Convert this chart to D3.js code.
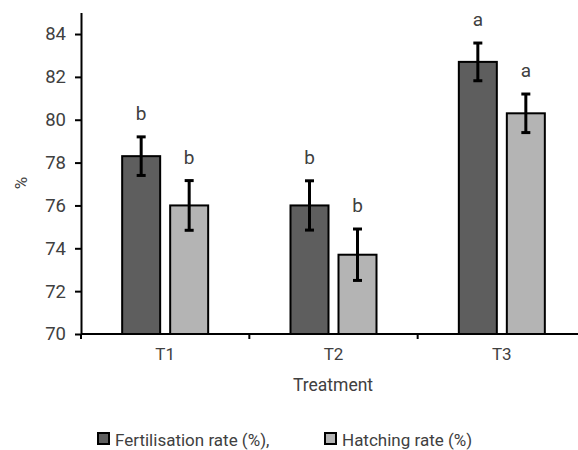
<!DOCTYPE html>
<html>
<head>
<meta charset="utf-8">
<script src="https://cdn.jsdelivr.net/npm/d3@7"></script>
<style>
  body { margin: 0; background: #fff; }
  text { font-family: Roboto, "Liberation Sans", sans-serif; font-weight: 400; fill: #404040; }
</style>
</head>
<body>
<svg width="578" height="450"></svg>
<script>
const categories = ["T1", "T2", "T3"];
const series = ["Fertilisation rate (%),", "Hatching rate (%)"];
const fertilisation = [78.3, 76.0, 82.7];
const fertilisationErr = [0.9, 1.15, 0.88];
const hatching = [76.0, 73.7, 80.3];
const hatchingErr = [1.16, 1.2, 0.9];
const fertLetters = ["b", "b", "a"];
const hatchLetters = ["b", "b", "a"];
const yTicks = [70, 72, 74, 76, 78, 80, 82, 84];

const colors = ["#5e5e5e", "#b4b4b4"];
const margin = { top: 12.6, left: 81, bottom: 334 };

// rows: one per category, two bars each
const rows = categories.map((c, i) => ({
  cat: c,
  bars: [
    { s: 0, v: fertilisation[i], e: fertilisationErr[i], l: fertLetters[i] },
    { s: 1, v: hatching[i], e: hatchingErr[i], l: hatchLetters[i] }
  ]
}));

const svg = d3.select("svg");

const x0 = d3.scaleBand().domain(categories).range([margin.left, 586]);
const x1 = d3.scaleBand().domain([0, 1]).range([-43, 43]).paddingInner(10 / 48);
const y = d3.scaleLinear().domain([70, 85]).range([margin.bottom, margin.top]);

// y axis
const yAxis = d3.axisLeft(y).tickValues(yTicks).tickSize(6).tickSizeOuter(0).tickPadding(9);
const gy = svg.append("g").attr("transform", `translate(${margin.left},0)`).call(yAxis);
gy.select(".domain").attr("stroke", "#000").attr("stroke-width", 2);
gy.selectAll(".tick line").attr("stroke", "#000").attr("stroke-width", 2);
gy.selectAll(".tick text").attr("font-size", 18.5).attr("fill", "#404040")
  .style("font-family", "Roboto, sans-serif").style("font-weight", 400);

// bars
const groups = svg.selectAll(".grp").data(rows).enter().append("g")
  .attr("transform", d => `translate(${x0(d.cat) + x0.bandwidth() / 2},0)`);

groups.selectAll("rect").data(d => d.bars).enter().append("rect")
  .attr("x", d => x1(d.s))
  .attr("width", x1.bandwidth())
  .attr("y", d => y(d.v))
  .attr("height", d => y(70) - y(d.v))
  .attr("fill", d => colors[d.s])
  .attr("stroke", "#000")
  .attr("stroke-width", 2);

// error bars
const err = groups.selectAll(".err").data(d => d.bars).enter().append("g")
  .attr("transform", d => `translate(${x1(d.s) + x1.bandwidth() / 2},0)`);
err.append("line").attr("y1", d => y(d.v + d.e)).attr("y2", d => y(d.v - d.e));
err.append("line").attr("x1", -4.5).attr("x2", 4.5).attr("y1", d => y(d.v + d.e)).attr("y2", d => y(d.v + d.e));
err.append("line").attr("x1", -4.5).attr("x2", 4.5).attr("y1", d => y(d.v - d.e)).attr("y2", d => y(d.v - d.e));
err.selectAll("line").attr("stroke", "#000").attr("stroke-width", 3);

// significance letters
groups.selectAll(".lbl").data(d => d.bars).enter().append("text")
  .attr("x", d => x1(d.s) + x1.bandwidth() / 2)
  .attr("y", d => y(d.v + d.e) - 17)
  .attr("text-anchor", "middle")
  .attr("font-size", 19)
  .text(d => d.l);

// x axis
svg.append("line")
  .attr("x1", margin.left).attr("x2", 586)
  .attr("y1", y(70)).attr("y2", y(70))
  .attr("stroke", "#000").attr("stroke-width", 2);
svg.selectAll(".xtick").data(categories.concat(["end"])).enter().append("line")
  .attr("x1", (d, i) => margin.left + i * x0.step())
  .attr("x2", (d, i) => margin.left + i * x0.step())
  .attr("y1", y(70)).attr("y2", y(70) + 5)
  .attr("stroke", "#000").attr("stroke-width", 2);
svg.selectAll(".xlab").data(categories).enter().append("text")
  .attr("x", d => x0(d) + x0.bandwidth() / 2)
  .attr("y", 360)
  .attr("text-anchor", "middle")
  .attr("font-size", 17)
  .text(d => d);

svg.append("text").attr("x", 333).attr("y", 391).attr("text-anchor", "middle")
  .attr("font-size", 17.5).text("Treatment");

svg.append("text").attr("transform", "translate(27,183) rotate(-90)")
  .attr("text-anchor", "middle").attr("font-size", 17).text("%");

// legend
const legendX = [98, 325];
const leg = svg.selectAll(".leg").data(series).enter().append("g")
  .attr("transform", (d, i) => `translate(${legendX[i]},433)`);
leg.append("rect").attr("width", 11).attr("height", 11)
  .attr("fill", (d, i) => colors[i]).attr("stroke", "#000").attr("stroke-width", 2);
leg.append("text").attr("x", 17).attr("y", 12.5).attr("font-size", 17).text(d => d);
</script>
</body>
</html>
